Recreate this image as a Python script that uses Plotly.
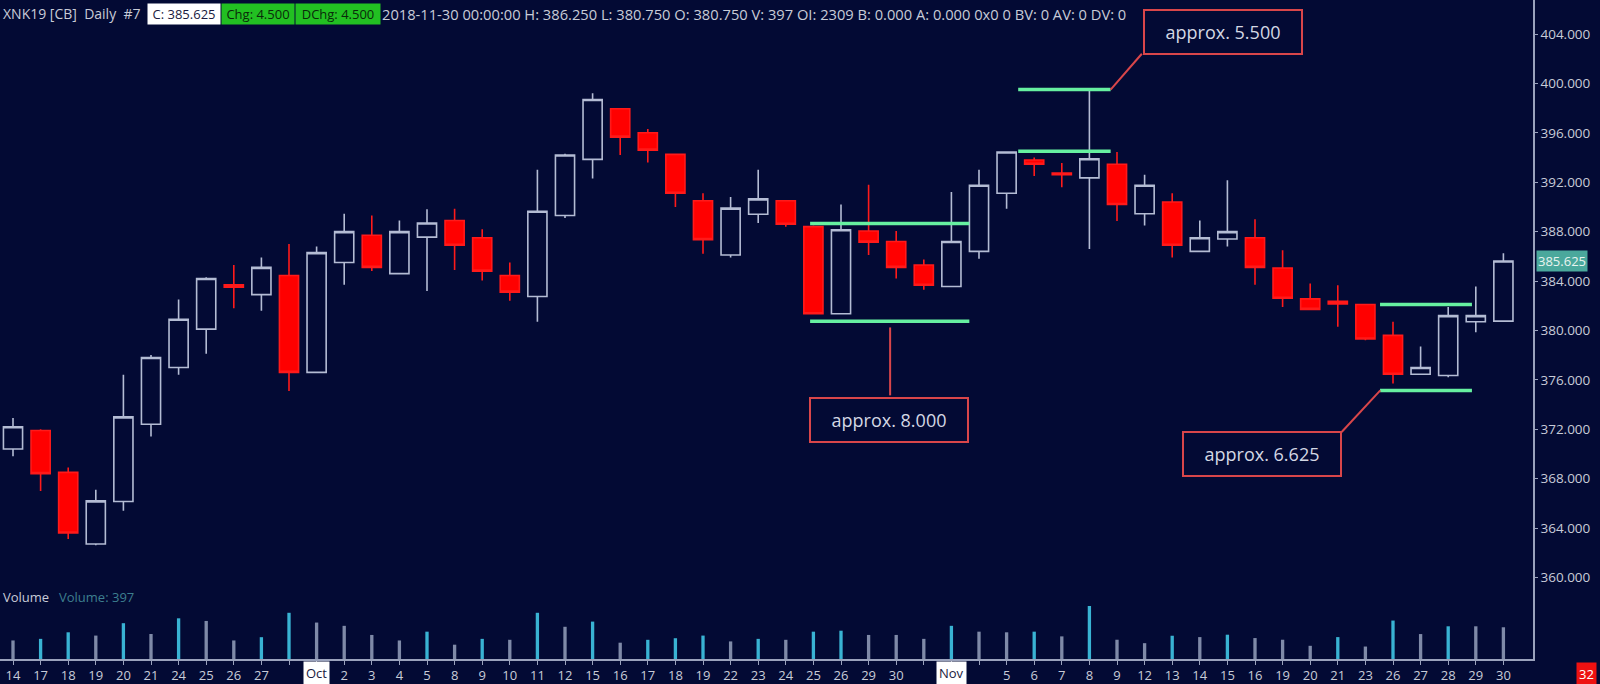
import plotly.graph_objects as go

# ---------------- data ----------------
tick_labels = ["14", "17", "18", "19", "20", "21", "24", "25", "26", "27", "",
               "", "2", "3", "4", "5", "8", "9", "10", "11", "12", "15", "16", "17", "18", "19",
               "22", "23", "24", "25", "26", "29", "30", "",
               "", "", "5", "6", "7", "8", "9", "12", "13", "14", "15", "16", "19", "20", "21",
               "23", "26", "27", "28", "29", "30"]
month_labels = {11: "Oct", 34: "Nov"}

open_ = [370.4, 371.9, 368.5, 362.7, 366.15, 372.4, 377.0, 380.1, 383.7, 382.9, 384.45,
         376.6, 385.5, 387.7, 384.6, 387.55, 388.9, 387.5, 384.45, 382.75, 389.3, 393.85,
         397.95, 396.0, 394.25, 390.5, 386.1, 389.4, 390.5, 388.4, 381.35, 388.05, 387.2,
         385.3, 383.55, 386.4, 391.1, 393.8, 392.75, 392.35, 393.45, 389.45, 390.4, 386.4,
         387.4, 387.5, 385.05, 382.55, 382.35, 382.1, 379.6, 376.45, 376.35, 380.7, 380.75]
high = [372.9, 372.0, 368.9, 367.1, 376.4, 378.0, 382.5, 384.3, 385.3, 385.9, 387.0,
        386.8, 389.45, 389.3, 388.9, 389.8, 389.85, 388.2, 385.5, 393.0, 394.3, 399.2,
        398.0, 396.3, 394.3, 391.1, 390.8, 393.0, 390.5, 388.5, 390.2, 391.8, 388.05,
        385.75, 391.2, 393.0, 394.5, 394.0, 393.55, 399.5, 394.45, 392.6, 391.1, 388.9,
        392.15, 389.0, 386.5, 383.8, 383.65, 382.1, 380.7, 378.7, 381.9, 383.55, 386.25]
low = [369.8, 367.0, 363.1, 362.6, 365.4, 371.4, 376.4, 378.1, 381.8, 381.6, 375.1,
       376.6, 383.7, 384.8, 384.6, 383.2, 384.9, 384.05, 382.4, 380.7, 389.1, 392.3,
       394.2, 393.6, 390.0, 386.2, 385.9, 388.7, 388.4, 381.3, 381.3, 386.1, 384.2,
       383.3, 383.5, 385.8, 389.85, 392.5, 391.6, 386.6, 388.85, 388.5, 385.9, 386.4,
       386.8, 383.7, 381.9, 381.7, 380.3, 379.2, 375.7, 376.4, 376.2, 379.85, 380.75]
close = [372.2, 368.4, 363.6, 366.2, 373.0, 377.8, 380.9, 384.2, 383.5, 385.1, 376.6,
         386.3, 388.0, 385.1, 388.0, 388.7, 386.9, 384.8, 383.1, 389.65, 394.2, 398.7,
         395.65, 394.6, 391.1, 387.35, 389.9, 390.65, 388.6, 381.35, 388.15, 387.15, 385.1,
         383.65, 387.2, 391.75, 394.45, 393.45, 392.6, 393.9, 390.2, 391.75, 386.9, 387.5,
         388.0, 385.1, 382.6, 381.7, 382.15, 379.3, 376.45, 377.0, 381.2, 381.2, 385.625]
volume = [232, 252, 334, 293, 448, 313, 509, 476, 232, 273, 578,
          456, 415, 301, 232, 342, 179, 252, 240, 578, 403, 468, 204, 240, 260, 293,
          220, 252, 240, 342, 354, 301, 301, 252,
          415, 342, 334, 342, 283, 663, 241, 198, 291, 274, 304, 262, 241, 165, 274,
          156, 481, 312, 409, 409, 397]

price_ticks = [360, 364, 368, 372, 376, 380, 384, 388, 392, 396, 400, 404]

band_x0 = [28.88, 36.42, 49.53]
band_x1 = [34.65, 39.77, 52.86]
band_hi = [388.65, 399.5, 382.1]
band_lo = [380.75, 394.5, 375.14]
band_text = ["approx. 8.000", "approx. 5.500", "approx. 6.625"]

# ---------------- style ----------------
BG = "#030a34"
AXIS = "#9aa2bc"
TXT = "#c8ccd8"
RED_BOX = "#d9464a"
GREEN = "#66f0a0"
FONT = "Open Sans"

FW, FH = 1600, 684
ML, MR, MT, MB = 0, 67, 0, 25
PW = FW - ML - MR   # 1533
PH = FH - MT - MB   # 659


def px(xp):
    return (xp - ML) / PW


def py(yp):
    return 1 - (yp - MT) / PH


idx = list(range(len(close)))
vol_colors = ["#7f8aa8"] + [("#39b3d3" if volume[i] > volume[i - 1] else "#7f8aa8")
                            for i in range(1, len(volume))]

fig = go.Figure()

fig.add_trace(go.Bar(x=idx, y=volume, yaxis="y2", width=0.12,
                     marker=dict(color=vol_colors, line=dict(width=0)),
                     showlegend=False, hoverinfo="skip"))

fig.add_trace(go.Candlestick(
    x=idx, open=open_, high=high, low=low, close=close,
    increasing=dict(line=dict(color="#b4bcd4", width=1.6), fillcolor=BG),
    decreasing=dict(line=dict(color="#ff1a1a", width=1.6), fillcolor="#ff0000"),
    whiskerwidth=0, showlegend=False))

for x0, x1, hi, lo in zip(band_x0, band_x1, band_hi, band_lo):
    for yv in (hi, lo):
        fig.add_trace(go.Scatter(x=[x0, x1], y=[yv, yv], mode="lines",
                                 line=dict(color=GREEN, width=3.5),
                                 showlegend=False, hoverinfo="skip"))

# connectors
shapes = [
    dict(type="line", xref="x", yref="y", x0=31.78, x1=31.78, y0=380.24, y1=374.74,
         line=dict(color=RED_BOX, width=2)),
    dict(type="line", xref="x", yref="y", x0=39.77, x1=40.9, y0=399.5, y1=402.4,
         line=dict(color=RED_BOX, width=2)),
    dict(type="line", xref="x", yref="y", x0=49.54, x1=48.14, y0=375.14, y1=371.77,
         line=dict(color=RED_BOX, width=2)),
]

annotations = []
box_pos = [(31.75, 372.73), (43.84, 404.19), (45.25, 369.98)]
for (bx, by), t in zip(box_pos, band_text):
    annotations.append(dict(x=bx, y=by, xref="x", yref="y", text=t, showarrow=False,
                            font=dict(family=FONT, size=18, color="#d4d8e4"),
                            bgcolor=BG, bordercolor=RED_BOX, borderwidth=2, borderpad=1,
                            width=154, height=40, xanchor="center", yanchor="middle"))

hy = py(14)
annotations += [
    dict(x=px(1), y=hy, xref="paper", yref="paper", xanchor="left", yanchor="middle",
         text="XNK19 [CB]  Daily  #7", showarrow=False,
         font=dict(family=FONT, size=14, color=TXT)),
    dict(x=px(147), y=hy, xref="paper", yref="paper", xanchor="left", yanchor="middle",
         text="C: 385.625", showarrow=False, bgcolor="#ffffff", borderpad=1, width=70,
         height=18, font=dict(family=FONT, size=13, color="#1a1a40")),
    dict(x=px(221), y=hy, xref="paper", yref="paper", xanchor="left", yanchor="middle",
         text="Chg: 4.500", showarrow=False, bgcolor="#22c022", borderpad=1, width=70,
         height=18, font=dict(family=FONT, size=13, color="#0a2a0a")),
    dict(x=px(295), y=hy, xref="paper", yref="paper", xanchor="left", yanchor="middle",
         text="DChg: 4.500", showarrow=False, bgcolor="#22c022", borderpad=1, width=82,
         height=18, font=dict(family=FONT, size=13, color="#0a2a0a")),
    dict(x=px(380), y=hy, xref="paper", yref="paper", xanchor="left", yanchor="middle",
         text="2018-11-30 00:00:00 H: 386.250 L: 380.750 O: 380.750 V: 397 OI: 2309 "
              "B: 0.000 A: 0.000 0x0 0 BV: 0 AV: 0 DV: 0",
         showarrow=False, font=dict(family=FONT, size=14.7, color=TXT)),
    dict(x=px(1), y=py(597), xref="paper", yref="paper", xanchor="left",
         yanchor="middle", text="Volume", showarrow=False,
         font=dict(family=FONT, size=13, color=TXT)),
    dict(x=px(57), y=py(597), xref="paper", yref="paper", xanchor="left",
         yanchor="middle", text="Volume: 397", showarrow=False,
         font=dict(family=FONT, size=13, color="#3d7f8f")),
    dict(x=px(1536), y=close[-1], xref="paper", yref="y", xanchor="left",
         yanchor="middle", text=f"{close[-1]:.3f}", showarrow=False,
         bgcolor="#4aa89c", borderpad=1,
         font=dict(family=FONT, size=13, color="#e8f4f0")),
    dict(x=px(1586), y=py(674), xref="paper", yref="paper", xanchor="center",
         yanchor="middle", text="32", showarrow=False, bgcolor="#ee1111", borderpad=2,
         font=dict(family=FONT, size=13, color="#ffffff")),
]
for k, m in month_labels.items():
    annotations.append(dict(x=k, y=py(673), xref="x", yref="paper",
                            xanchor="center", yanchor="middle", text=m, showarrow=False,
                            bgcolor="#ffffff", borderpad=2,
                            font=dict(family=FONT, size=13, color="#1a1a40")))

SPACING = 27.6        # px per trading day in the reference
X0_PX = 13            # first candle, px from plot left
Y_SCALE = 12.35       # px per price unit
Y404 = 34             # y of 404 in px

fig.update_layout(
    width=FW, height=FH,
    margin=dict(l=ML, r=MR, t=MT, b=MB),
    paper_bgcolor=BG, plot_bgcolor=BG,
    font=dict(family=FONT, size=13, color=TXT),
    showlegend=False,
    boxgap=0.05, boxgroupgap=0.27,
    xaxis=dict(range=[-X0_PX / SPACING, (PW - X0_PX) / SPACING],
               tickmode="array", tickvals=idx, ticktext=tick_labels,
               showgrid=False, zeroline=False, showline=True, linecolor=AXIS, linewidth=1.5,
               ticks="outside", ticklen=4, tickcolor=AXIS,
               tickfont=dict(family=FONT, size=13, color=TXT),
               rangeslider=dict(visible=False)),
    yaxis=dict(side="right",
               range=[404 - (PH - Y404) / Y_SCALE, 404 + Y404 / Y_SCALE],
               tickmode="array",
               tickvals=price_ticks, ticktext=[f"{v:.3f}" for v in price_ticks],
               showgrid=False, zeroline=False, showline=True, linecolor=AXIS, linewidth=1.5,
               ticks="outside", ticklen=3, tickcolor=AXIS,
               tickfont=dict(family=FONT, size=13.5, color=TXT)),
    yaxis2=dict(overlaying="y", range=[0, 663 * PH / 53], visible=False),
    shapes=shapes,
    annotations=annotations,
)

fig.write_html(
    "out.html",
    config={"displayModeBar": False},
    post_script=("document.body.style.margin='0';"
                 "document.body.style.overflow='hidden';"
                 "document.body.style.background='" + BG + "';"),
)
